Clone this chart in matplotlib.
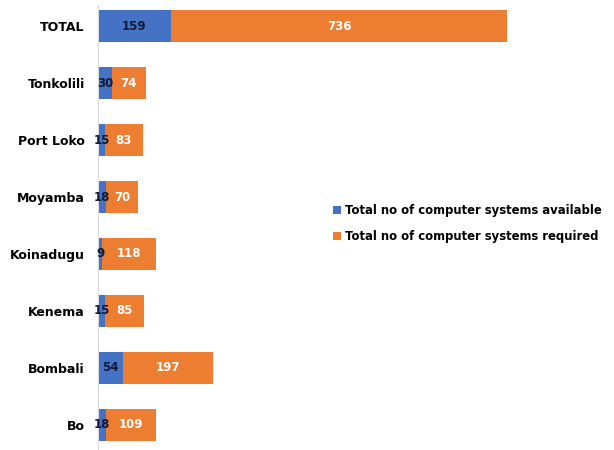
import matplotlib.pyplot as plt
import matplotlib

matplotlib.rcParams['font.family'] = ['DejaVu Sans']

districts = ['Bo', 'Bombali', 'Kenema', 'Koinadugu', 'Moyamba', 'Port Loko', 'Tonkolili', 'TOTAL']
available = [18, 54, 15, 9, 18, 15, 30, 159]
required = [109, 197, 85, 118, 70, 83, 74, 736]

blue = '#4472C4'
orange = '#ED7D31'

fig = plt.figure(figsize=(6.14, 4.5), dpi=100)
ax = fig.add_axes([0.1596, 0.0, 0.745, 445 / 450])

y = list(range(len(districts)))
bars1 = ax.barh(y, available, height=0.56, color=blue, label='Total no of computer systems available')
bars2 = ax.barh(y, required, left=available, height=0.56, color=orange,
                label='Total no of computer systems required')

# 数据标签
for rect, v in zip(bars1, available):
    ax.text(rect.get_x() + rect.get_width() / 2, rect.get_y() + rect.get_height() / 2, str(v),
            ha='center', va='center', fontsize=8.5, fontweight='bold', color='#141a33')
for rect, v in zip(bars2, required):
    ax.text(rect.get_x() + rect.get_width() / 2, rect.get_y() + rect.get_height() / 2, str(v),
            ha='center', va='center', fontsize=8.5, fontweight='bold', color='white')

ax.set_xlim(0, 1000)
ax.set_ylim(-0.44, 7.37)
ax.set_yticks(y)
ax.set_yticklabels(districts, fontsize=9, fontweight='bold')
ax.tick_params(axis='y', length=0, pad=9.5)
ax.set_xticks([])
for s in ['top', 'right', 'bottom']:
    ax.spines[s].set_visible(False)
ax.spines['left'].set_color('#d9d9d9')

ax.legend(loc='center left', bbox_to_anchor=(0.49, 0.509), frameon=False,
          handlelength=0.7, handleheight=0.7, handletextpad=0.4, labelspacing=1.15,
          prop={'weight': 'bold', 'size': 8.4})

plt.savefig('out.png', dpi=100)
